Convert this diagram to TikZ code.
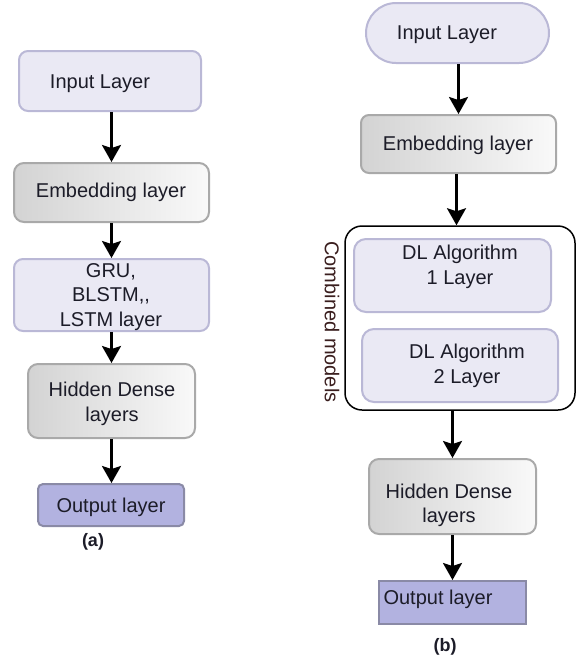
\documentclass[tikz,border=0pt]{standalone}
\usepackage{fontspec}
\setmainfont{Liberation Sans}
\usetikzlibrary{arrows.meta,calc}
\definecolor{lavfill}{HTML}{EAE9F4}
\definecolor{lavdraw}{HTML}{BAB8D6}
\definecolor{gleft}{HTML}{D3D3D3}
\definecolor{gright}{HTML}{F9F9F9}
\definecolor{gdraw}{HTML}{A9A9A9}
\definecolor{outfill}{HTML}{B2B2E0}
\definecolor{outdraw}{HTML}{8A8AA6}
\definecolor{txtcol}{HTML}{1C1C28}
\definecolor{combcol}{HTML}{3A1E1E}
\begin{document}
\begin{tikzpicture}[x=1pt,y=-1pt,
  lbox/.style={draw=lavdraw, fill=lavfill, line width=2pt, rounded corners=9pt, inner sep=0pt},
  gbox/.style={draw=gdraw, line width=2pt, rounded corners=10pt, left color=gleft, right color=gright, inner sep=0pt},
  obox/.style={draw=outdraw, fill=outfill, line width=2pt, inner sep=0pt},
  txt/.style={font=\fontsize{20}{24.5}\selectfont, align=center, text=txtcol, inner sep=0pt},
  lab/.style={font=\fontsize{18}{20}\selectfont\bfseries, text=txtcol, inner sep=0pt},
  arr/.style={line width=2.6pt, -{Stealth[length=17pt,width=19pt,inset=3pt]}}]
\useasboundingbox (0,0) rectangle (579,662);
% ---------- (a)
\node[lbox, minimum width=182pt, minimum height=60pt] (in1) at (110,81) {};
\node[gbox, minimum width=195pt, minimum height=59pt] (emb1) at (111.5,192.5) {};
\node[lbox, minimum width=195pt, minimum height=72pt] (gru1) at (111.5,295) {};
\node[gbox, minimum width=167pt, minimum height=74pt] (hid1) at (111.5,401) {};
\node[obox, rounded corners=5pt, minimum width=146pt, minimum height=42pt] (out1) at (111,505) {};
\node[txt] (tin1) at (100,84) {Input Layer};
\node[txt] (temb1) at (111,192) {Embedding layer};
\node[txt] (tgru1) at (111,297) {GRU,\\BLSTM,{},\\LSTM layer};
\node[txt] (thid1) at (112,404) {Hidden Dense\\layers};
\node[txt] (tout1) at (111,507) {Output layer};
\node[lab] (laba) at (93,542) {(a)};
\draw[arr] (in1.south -| emb1) -- (emb1.north);
\draw[arr] (emb1.south) -- (gru1.north);
\draw[arr] (gru1.south) -- (hid1.north);
\draw[arr] (hid1.south) -- (hid1.south |- out1.north);
% ---------- (b)
\node[lbox, rounded corners=30pt, minimum width=183pt, minimum height=60pt] (in2) at (457.5,33) {};
\node[gbox, rounded corners=8pt, minimum width=195pt, minimum height=58pt] (emb2) at (458.5,144) {};
\node[draw=black, fill=white, line width=1.5pt, rounded corners=17pt, minimum width=230pt, minimum height=184pt, inner sep=0pt] (cont) at (460,318) {};
\node[lbox, rounded corners=12pt, minimum width=197pt, minimum height=73pt] (dl1) at (452.5,275.5) {};
\node[lbox, rounded corners=12pt, minimum width=196pt, minimum height=73pt] (dl2) at (460,365.5) {};
\node[gbox, minimum width=167pt, minimum height=75pt] (hid2) at (452.5,496.5) {};
\node[obox, minimum width=147pt, minimum height=43pt] (out2) at (452.5,602.5) {};
\node[txt] (tin2) at (447,35) {Input Layer};
\node[txt] (temb2) at (458,145) {Embedding layer};
\node[txt] (tdl1) at (460,267) {DL Algorithm\\1 Layer};
\node[txt] (tdl2) at (467,366) {DL Algorithm\\2 Layer};
\node[txt] (thid2) at (449,505.5) {Hidden Dense\\layers};
\node[txt] (tout2) at (438,599) {Output layer};
\node[txt, text=combcol, rotate=-90] (tcomb) at (332,322) {Combined models};
\node[lab] (labb) at (445,647) {(b)};
\draw[arr] (in2.south -| emb2) -- (emb2.north);
\draw[arr] ($(emb2.south)+(-2,0)$) -- ($(emb2.south |- cont.north)+(-2,0)$);
\draw[arr] (cont.south -| hid2) -- (hid2.north);
\draw[arr] (hid2.south) -- (out2.north);
\end{tikzpicture}
\end{document}
